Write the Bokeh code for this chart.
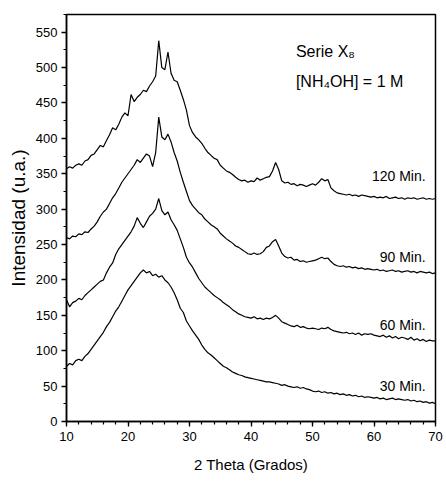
from bokeh.plotting import figure
from bokeh.models import Range1d, Label, FixedTicker, ColumnDataSource
from bokeh.embed import file_html
from bokeh.resources import INLINE

# 2-theta grid (degrees), 0.5 step
two_theta = [
    10.0, 10.5, 11.0, 11.5, 12.0, 12.5, 13.0, 13.5, 14.0, 14.5,
    15.0, 15.5, 16.0, 16.5, 17.0, 17.5, 18.0, 18.5, 19.0, 19.5,
    20.0, 20.5, 21.0, 21.5, 22.0, 22.5, 23.0, 23.5, 24.0, 24.5,
    25.0, 25.5, 26.0, 26.5, 27.0, 27.5, 28.0, 28.5, 29.0, 29.5,
    30.0, 30.5, 31.0, 31.5, 32.0, 32.5, 33.0, 33.5, 34.0, 34.5,
    35.0, 35.5, 36.0, 36.5, 37.0, 37.5, 38.0, 38.5, 39.0, 39.5,
    40.0, 40.5, 41.0, 41.5, 42.0, 42.5, 43.0, 43.5, 44.0, 44.5,
    45.0, 45.5, 46.0, 46.5, 47.0, 47.5, 48.0, 48.5, 49.0, 49.5,
    50.0, 50.5, 51.0, 51.5, 52.0, 52.5, 53.0, 53.5, 54.0, 54.5,
    55.0, 55.5, 56.0, 56.5, 57.0, 57.5, 58.0, 58.5, 59.0, 59.5,
    60.0, 60.5, 61.0, 61.5, 62.0, 62.5, 63.0, 63.5, 64.0, 64.5,
    65.0, 65.5, 66.0, 66.5, 67.0, 67.5, 68.0, 68.5, 69.0, 69.5,
    70.0,
]

int_120 = [
    357, 360, 358, 362, 364, 362, 368, 370, 376, 378,
    384, 390, 388, 397, 405, 415, 412, 420, 430, 436,
    432, 462, 452, 458, 462, 468, 466, 474, 480, 488,
    538, 500, 497, 522, 492, 482, 480, 468, 455, 440,
    418, 408, 402, 398, 393, 386, 380, 376, 372, 370,
    362, 358, 354, 352, 349, 345, 342, 340, 341, 338,
    340, 339, 344, 341, 343, 345, 346, 354, 366, 356,
    340, 337, 338, 335, 336, 333, 335, 334, 332, 334,
    336, 334, 338, 343, 340, 342, 330, 326, 323, 322,
    321, 320, 321, 319, 320, 318, 320, 319, 318, 317,
    318, 316, 317, 316, 318, 315, 316, 317, 315, 316,
    314, 316, 315, 316, 314, 315, 316, 314, 315, 314,
    315,
]

int_90 = [
    260, 258, 262, 261, 265, 264, 268, 267, 272, 276,
    282, 290, 296, 300, 308, 316, 322, 330, 338, 344,
    350, 356, 362, 370, 366, 372, 378, 375, 360, 380,
    430, 402, 398, 406, 395, 380, 368, 352, 338, 325,
    312, 305, 300, 295, 292, 286, 282, 278, 275, 272,
    266, 262, 258, 255, 252, 248, 246, 243, 240, 237,
    236, 238, 236, 237, 240, 246, 248, 254, 257, 248,
    238, 233, 231, 232, 228, 229, 226, 227, 225, 226,
    227, 228, 230, 232, 230, 231, 226, 222, 220, 219,
    220, 218, 219, 217, 218, 216, 217, 215, 216, 215,
    214, 215, 213, 214, 212, 213, 214, 212, 213, 211,
    212, 213, 211, 212, 210, 212, 211, 210, 211, 209,
    210,
]

int_60 = [
    172, 162, 168, 170, 174, 172, 178, 182, 186, 190,
    194, 198, 200, 210, 218, 224, 236, 244, 250, 256,
    262, 268, 276, 288, 280, 274, 282, 290, 294, 300,
    315, 298, 292, 296, 285, 278, 270, 258, 246, 232,
    224, 218, 210, 202, 196, 190, 186, 182, 178, 175,
    172, 168, 165, 162, 158, 155, 152, 150, 148, 147,
    146, 148, 145, 146, 144, 146, 145, 147, 150, 146,
    141, 139, 137, 135, 134, 136, 133, 134, 132, 131,
    132, 131, 130, 132, 131, 133, 130, 128, 127, 126,
    125, 126, 124, 125, 123, 125, 122, 124, 123, 124,
    122, 121, 120, 122, 119, 121, 118, 120, 117, 119,
    118, 116, 119, 115, 117, 114, 116, 113, 115, 114,
    114,
]

int_30 = [
    78, 82, 80, 86, 88, 86, 92, 96, 102, 108,
    114, 120, 126, 134, 140, 148, 156, 162, 170, 178,
    186, 192, 198, 204, 210, 214, 210, 212, 206, 208,
    204, 206, 200, 196, 190, 182, 172, 160, 154, 142,
    135, 128, 122, 116, 108, 102, 97, 94, 90, 86,
    82, 78, 76, 73, 70, 68, 66, 65, 63, 62,
    61, 60, 59, 58, 57, 56, 56, 55, 54, 53,
    51, 52, 50, 49, 48, 49, 47, 48, 46, 45,
    43, 42, 43, 41, 42, 40, 41, 39, 40, 38,
    39, 37, 38, 36, 37, 35, 36, 34, 35, 34,
    33, 34, 32, 33, 31, 32, 33, 31, 32, 31,
    30, 31, 29, 30, 28, 29, 27, 28, 26, 27,
    25,
]

series_names = ["120 Min.", "90 Min.", "60 Min.", "30 Min."]
series_values = [int_120, int_90, int_60, int_30]

x_ticks = [10, 20, 30, 40, 50, 60, 70]
y_ticks = [0, 50, 100, 150, 200, 250, 300, 350, 400, 450, 500, 550]

SANS = "Liberation Sans"

p = figure(width=446, height=482, output_backend="svg", toolbar_location=None,
           x_range=Range1d(10, 70), y_range=Range1d(0, 575),
           min_border_left=66, min_border_right=11, min_border_top=14,
           min_border_bottom=61)
p.background_fill_color = "white"
p.border_fill_color = "white"
p.xgrid.visible = False
p.ygrid.visible = False
p.outline_line_color = "black"
p.outline_line_width = 1.5

for ax in (p.xaxis[0], p.yaxis[0]):
    ax.axis_line_color = "black"
    ax.axis_line_width = 1.5
    ax.major_tick_in = 0
    ax.major_tick_out = 5
    ax.minor_tick_in = 0
    ax.minor_tick_out = 3
    ax.major_tick_line_color = "black"
    ax.minor_tick_line_color = "black"
    ax.major_tick_line_width = 1.3
    ax.minor_tick_line_width = 1.2
    ax.major_label_text_font = SANS
    ax.major_label_text_font_size = "13px"
    ax.major_label_text_color = "black"
    ax.axis_label_text_color = "black"

p.xaxis.ticker = FixedTicker(ticks=x_ticks, minor_ticks=[10 + 2 * i for i in range(31)])
p.yaxis.ticker = FixedTicker(ticks=y_ticks, minor_ticks=[25 * i for i in range(24)])
p.xaxis.major_label_standoff = 5
p.yaxis.major_label_standoff = 4

p.xaxis.axis_label = "2 Theta (Grados)"
p.xaxis.axis_label_text_font = SANS
p.xaxis.axis_label_text_font_size = "15px"
p.xaxis.axis_label_text_font_style = "normal"
p.xaxis.axis_label_standoff = 12

p.yaxis.axis_label = "Intensidad (u.a.)"
p.yaxis.axis_label_text_font = SANS
p.yaxis.axis_label_text_font_size = "19px"
p.yaxis.axis_label_text_font_style = "normal"
p.yaxis.axis_label_standoff = 4

for name, vals in zip(series_names, series_values):
    src = ColumnDataSource(dict(x=two_theta, y=vals))
    p.line("x", "y", source=src, line_color="black", line_width=1.2)

# curve labels (right-aligned near the right edge)
label_pos = {"120 Min.": 347, "90 Min.": 232, "60 Min.": 137, "30 Min.": 50}
for name in series_names:
    p.add_layout(Label(x=68.4, y=label_pos[name], text=name, text_align="right",
                       text_baseline="middle", text_font=SANS,
                       text_font_size="14px", text_color="black"))

p.add_layout(Label(x=47.3, y=523, text="Serie X\u2088", text_align="left",
                   text_baseline="middle", text_font=SANS,
                   text_font_size="16px", text_color="black"))
p.add_layout(Label(x=47.3, y=481, text="[NH\u2084OH] = 1 M", text_align="left",
                   text_baseline="middle", text_font=SANS,
                   text_font_size="16px", text_color="black"))

open("out.html", "w").write(file_html(p, INLINE))
